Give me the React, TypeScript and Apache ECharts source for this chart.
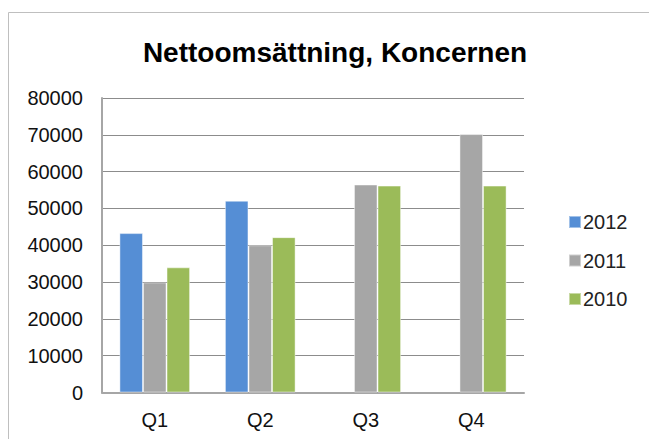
import React, { useEffect, useRef } from "react";
import * as echarts from "echarts";

const titleText = "Nettoomsättning, Koncernen";
const categories = ["Q1", "Q2", "Q3", "Q4"];
const seriesNames = ["2012", "2011", "2010"];
const values2012: (number | null)[] = [43300, 52100, null, null];
const values2011: (number | null)[] = [29900, 40000, 56500, 70200];
const values2010: (number | null)[] = [34000, 42200, 56200, 56200];
const colors = ["#558ED5", "#A6A6A6", "#9BBB59"];
const yMax = 80000;
const yInterval = 10000;

export default function App() {
  const ref = useRef<HTMLDivElement>(null);
  useEffect(() => {
    if (!ref.current) return;
    const chart = echarts.init(ref.current, undefined, { renderer: "svg" });
    const data = [values2012, values2011, values2010];
    const font = "'Liberation Sans', Arial, sans-serif";
    chart.setOption({
      animation: false,
      backgroundColor: "#ffffff",
      title: {
        text: titleText,
        left: 330,
        textAlign: "center",
        top: 33,
        textStyle: { fontFamily: font, fontSize: 28, fontWeight: "bold", color: "#000000" },
      },
      graphic: [
        {
          type: "rect",
          shape: { x: 8.5, y: 12.5, width: 700, height: 500 },
          style: { fill: "none", stroke: "#bfbfbf", lineWidth: 1 },
          silent: true,
        },
      ],
      legend: {
        orient: "vertical",
        left: 563,
        top: 207,
        itemWidth: 12,
        itemHeight: 12,
        itemGap: 18.5,
        icon: "rect",
        textStyle: { fontFamily: font, fontSize: 20, color: "#222222", padding: [0, 0, 0, -3] },
        data: seriesNames,
      },
      grid: { left: 102, right: 125, top: 98, height: 294.5, containLabel: false },
      xAxis: {
        type: "category",
        data: categories,
        axisTick: { show: false },
        axisLine: { show: true, lineStyle: { color: "#a6a6a6", width: 2 } },
        axisLabel: { fontFamily: font, fontSize: 20, color: "#111111", margin: 17 },
      },
      yAxis: {
        type: "value",
        min: 0,
        max: yMax,
        interval: yInterval,
        axisLine: { show: true, lineStyle: { color: "#a6a6a6", width: 2 } },
        axisTick: { show: false },
        splitLine: { show: true, lineStyle: { color: "#8c8c8c", width: 1 } },
        axisLabel: {
          fontFamily: font,
          fontSize: 20,
          color: "#111111",
          margin: 19,
          formatter: (v: number) => String(v),
        },
      },
      series: seriesNames.map((name, i) => ({
        name,
        type: "bar",
        data: data[i],
        barGap: "0%",
        barCategoryGap: "33%",
        itemStyle: { color: colors[i], borderColor: "rgba(255,255,255,0.45)", borderWidth: 1 },
      })),
    });
    return () => chart.dispose();
  }, []);
  return (
    <div
      ref={ref}
      style={{ position: "absolute", left: 0, top: 0, width: 649, height: 439 }}
    />
  );
}
